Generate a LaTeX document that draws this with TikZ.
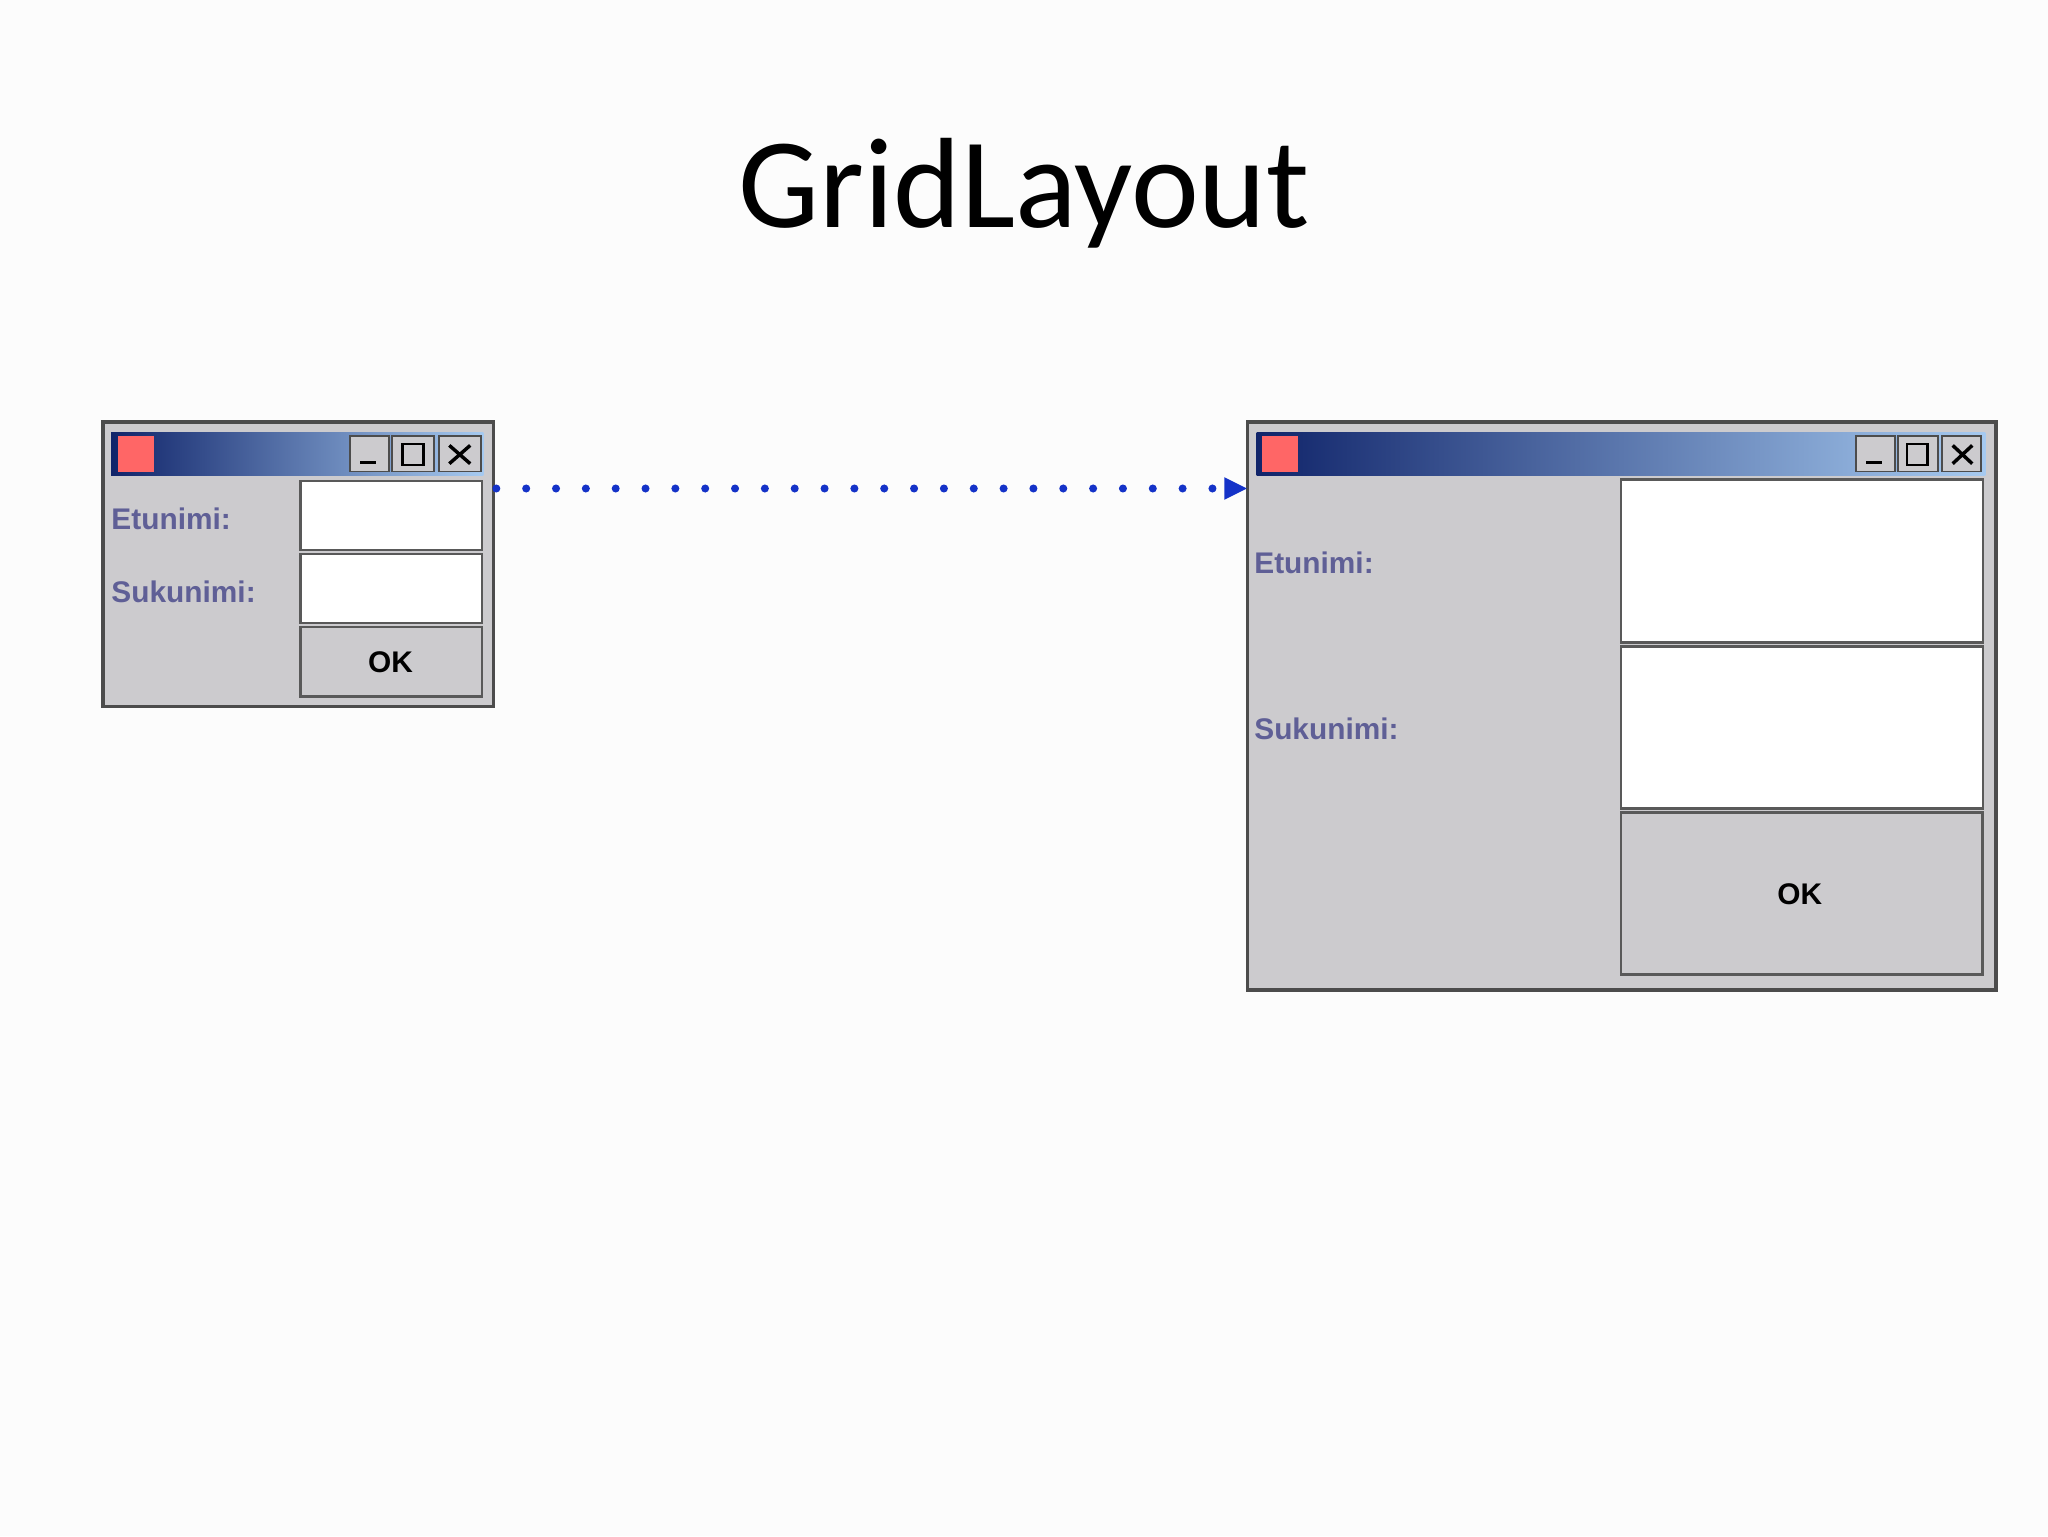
\documentclass[tikz,border=0pt]{standalone}
\usepackage{fontspec}
\setmainfont{Carlito}
\newfontfamily\uifont{Liberation Sans}
\usetikzlibrary{arrows.meta}
\definecolor{wingray}{RGB}{204,203,206}
\definecolor{lblcol}{RGB}{95,95,150}
\definecolor{navy}{RGB}{16,36,106}
\definecolor{lightbar}{RGB}{166,202,240}
\definecolor{arrowblue}{RGB}{20,50,200}
\tikzset{
  win/.style={fill=wingray,draw=gray!60!black,line width=1.5pt},
  field/.style={fill=white,draw=gray!70!black,line width=1pt},
  btn/.style={fill=wingray,draw=gray!70!black,line width=1.2pt},
  lbl/.style={font=\uifont\bfseries\fontsize{13}{15}\selectfont,text=lblcol,anchor=west,inner sep=0},
  oktext/.style={font=\uifont\bfseries\fontsize{13}{15}\selectfont,text=black},
  tbtn/.style={fill=wingray,draw=black!70,line width=0.8pt}
}
\begin{document}
\begin{tikzpicture}[x=0.2mm,y=-0.2mm]
\useasboundingbox (0,0) rectangle (1568,1176);
\fill[white!98!gray] (0,0) rectangle (1568,1176);
\node[font=\fontsize{56}{60}\selectfont] (title) at (784,148) {GridLayout};

% left window
\draw[win] (79,323) rectangle (378,541);
\shade[left color=navy,right color=lightbar] (85,331) rectangle (370,364);
\fill[red!60!white] (90,334) rectangle (118,361);
\foreach \a/\b in {268/298,300/332,336/368}{\draw[tbtn] (\a,334) rectangle (\b,361);}
\draw[line width=1.5pt] (276,354)--(288,354);
\draw[line width=1.2pt] (308,340) rectangle (324,356);
\draw[line width=1.5pt] (344,341)--(360,355) (344,355)--(360,341);
\node[lbl] (le) at (85,397) {Etunimi:};
\node[lbl] (ls) at (85,453) {Sukunimi:};
\draw[field] (230,368) rectangle (369,421);
\draw[field] (230,424) rectangle (369,477);
\draw[btn] (230,480) rectangle (369,533);
\node[oktext] (lok) at (299,507) {OK};

% right window
\draw[win] (955,323) rectangle (1528,758);
\shade[left color=navy,right color=lightbar] (962,331) rectangle (1520,364);
\fill[red!60!white] (966,334) rectangle (994,361);
\foreach \a/\b in {1421/1451,1453/1484,1487/1517}{\draw[tbtn] (\a,334) rectangle (\b,361);}
\draw[line width=1.5pt] (1429,354)--(1441,354);
\draw[line width=1.2pt] (1460,340) rectangle (1476,356);
\draw[line width=1.5pt] (1495,341)--(1510,355) (1495,355)--(1510,341);
\node[lbl] (re) at (960,431) {Etunimi:};
\node[lbl] (rs) at (960,558) {Sukunimi:};
\draw[field] (1241,367) rectangle (1518,492);
\draw[field] (1241,495) rectangle (1518,619);
\draw[btn] (1241,622) rectangle (1518,746);
\node[oktext] (rok) at (1378,685) {OK};

\coordinate (a) at (380,374);
\coordinate (b) at (955,374);
\draw[arrowblue,line width=3.5pt,line cap=round,dash pattern=on 0pt off 13pt,
  -{Triangle[length=10pt,width=9pt,line cap=butt]}] (a)--(b);
\end{tikzpicture}
\end{document}
